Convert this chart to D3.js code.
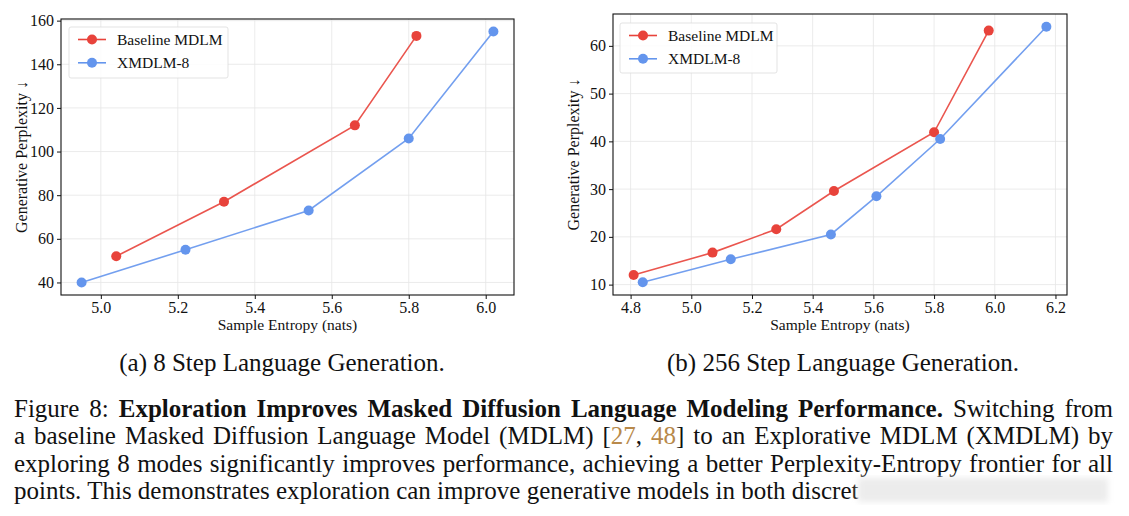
<!DOCTYPE html>
<html>
<head>
<meta charset="utf-8">
<script src="https://cdn.jsdelivr.net/npm/d3@7"></script>
<style>
  body { margin: 0; background: #fff; }
  svg { display: block; }
  text { font-family: "Liberation Serif", "Times New Roman", serif; }
</style>
</head>
<body>
<svg id="fig" width="1129" height="516"></svg>
<script>
// series names + colours
const seriesNames = ["Baseline MDLM", "XMDLM-8"];
const seriesColors = ["#e8433b", "#6495ed"];

// panel (a): 8 step
const a_baseX = [5.04, 5.32, 5.66, 5.82];
const a_baseY = [52, 77, 112, 153];
const a_xmX = [4.95, 5.22, 5.54, 5.80, 6.02];
const a_xmY = [40, 55, 73, 106, 155];
const a_xTicks = [5.0, 5.2, 5.4, 5.6, 5.8, 6.0];
const a_yTicks = [40, 60, 80, 100, 120, 140, 160];

// panel (b): 256 step
const b_baseX = [4.81, 5.07, 5.28, 5.47, 5.80, 5.98];
const b_baseY = [12, 16.7, 21.6, 29.6, 41.9, 63.2];
const b_xmX = [4.84, 5.13, 5.46, 5.61, 5.82, 6.17];
const b_xmY = [10.5, 15.3, 20.5, 28.5, 40.5, 64];
const b_xTicks = [4.8, 5.0, 5.2, 5.4, 5.6, 5.8, 6.0, 6.2];
const b_yTicks = [10, 20, 30, 40, 50, 60];

const subCaptions = ["(a) 8 Step Language Generation.", "(b) 256 Step Language Generation."];

const svg = d3.select("#fig");

// matplotlib style 5% margins
function padded(vals) {
  const [lo, hi] = d3.extent(vals);
  const m = (hi - lo) * 0.05;
  return [lo - m, hi + m];
}

function drawPanel(box, xs, ys, xTicks, yTicks, legendBox) {
  const allX = xs[0].concat(xs[1]);
  const allY = ys[0].concat(ys[1]);
  const x = d3.scaleLinear().domain(padded(allX)).range([box.left, box.right]);
  const y = d3.scaleLinear().domain(padded(allY)).range([box.bottom, box.top]);

  const g = svg.append("g");

  // grid
  g.append("g").selectAll("line").data(xTicks).join("line")
    .attr("x1", d => x(d)).attr("x2", d => x(d))
    .attr("y1", box.top).attr("y2", box.bottom)
    .attr("stroke", "#e6e6e6").attr("stroke-width", 0.8);
  g.append("g").selectAll("line").data(yTicks).join("line")
    .attr("x1", box.left).attr("x2", box.right)
    .attr("y1", d => y(d)).attr("y2", d => y(d))
    .attr("stroke", "#e6e6e6").attr("stroke-width", 0.8);

  // axes
  const xAxis = g.append("g")
    .attr("transform", `translate(0,${box.bottom})`)
    .call(d3.axisBottom(x).tickValues(xTicks).tickFormat(d3.format(".1f")).tickSize(4).tickSizeOuter(0));
  const yAxis = g.append("g")
    .attr("transform", `translate(${box.left},0)`)
    .call(d3.axisLeft(y).tickValues(yTicks).tickFormat(d3.format("d")).tickSize(4).tickSizeOuter(0));
  [xAxis, yAxis].forEach(ax => {
    ax.select(".domain").remove();
    ax.selectAll("text").attr("font-size", 16).attr("fill", "#111")
      .style("font-family", "'Liberation Serif', serif");
    ax.selectAll("line").attr("stroke", "#111");
  });

  g.append("rect")
    .attr("x", box.left).attr("y", box.top)
    .attr("width", box.right - box.left).attr("height", box.bottom - box.top)
    .attr("fill", "none").attr("stroke", "#111").attr("stroke-width", 1.1);

  // labels
  g.append("text")
    .attr("x", (box.left + box.right) / 2).attr("y", box.bottom + 35)
    .attr("text-anchor", "middle").attr("font-size", 15.5).attr("fill", "#111")
    .text("Sample Entropy (nats)");
  g.append("text")
    .attr("transform", `translate(${box.left - 34},${(box.top + box.bottom) / 2}) rotate(-90)`)
    .attr("text-anchor", "middle").attr("font-size", 16).attr("fill", "#111")
    .text("Generative Perplexity \u2193");

  // series
  const line = d3.line().x(d => x(d[0])).y(d => y(d[1]));
  for (let s = 0; s < 2; s++) {
    const pts = d3.zip(xs[s], ys[s]);
    g.append("path").datum(pts)
      .attr("d", line).attr("fill", "none")
      .attr("stroke", seriesColors[s]).attr("stroke-width", 1.6).attr("stroke-opacity", 0.9);
    g.append("g").selectAll("circle").data(pts).join("circle")
      .attr("cx", d => x(d[0])).attr("cy", d => y(d[1])).attr("r", 5)
      .attr("fill", seriesColors[s]);
  }

  // legend
  const lg = g.append("g");
  lg.append("rect")
    .attr("x", legendBox.x).attr("y", legendBox.y)
    .attr("width", legendBox.w).attr("height", legendBox.h).attr("rx", 2)
    .attr("fill", "#fff").attr("fill-opacity", 0.85)
    .attr("stroke", "#dcdcdc").attr("stroke-width", 0.8);
  seriesNames.forEach((name, i) => {
    const cy = legendBox.y + 12.5 + i * 23.3;
    const lx = legendBox.x + 9;
    lg.append("line").attr("x1", lx).attr("x2", lx + 28).attr("y1", cy).attr("y2", cy)
      .attr("stroke", seriesColors[i]).attr("stroke-width", 1.6);
    lg.append("circle").attr("cx", lx + 14).attr("cy", cy).attr("r", 5).attr("fill", seriesColors[i]);
    lg.append("text").attr("x", lx + 39).attr("y", cy).attr("dy", "0.33em")
      .attr("font-size", 15.5).attr("fill", "#111").text(name);
  });
}

drawPanel({left: 61, right: 514, top: 19, bottom: 295},
  [a_baseX, a_xmX], [a_baseY, a_xmY], a_xTicks, a_yTicks,
  {x: 69, y: 27, w: 159, h: 51});
drawPanel({left: 613, right: 1067, top: 14, bottom: 295},
  [b_baseX, b_xmX], [b_baseY, b_xmY], b_xTicks, b_yTicks,
  {x: 620, y: 23, w: 157, h: 50});

// sub captions
svg.append("g").selectAll("text").data(subCaptions).join("text")
  .attr("x", (d, i) => i === 0 ? 282 : 843).attr("y", 371)
  .attr("text-anchor", "middle").attr("font-size", 25).attr("fill", "#111")
  .text(d => d);

// figure caption, justified line by line
const captionLines = [
  [["Figure 8: ", "n"], ["Exploration Improves Masked Diffusion Language Modeling Performance.", "b"], [" Switching from", "n"]],
  [["a baseline Masked Diffusion Language Model (MDLM) [", "n"], ["27", "c"], [", ", "n"], ["48", "c"], ["] to an Explorative MDLM (XMDLM) by", "n"]],
  [["exploring 8 modes significantly improves performance, achieving a better Perplexity-Entropy frontier for all", "n"]],
  [["points. This demonstrates exploration can improve generative models in both discret", "n"]]
];
const capLeft = 14, capRight = 1113;
captionLines.forEach((parts, i) => {
  const t = svg.append("text")
    .attr("x", capLeft).attr("y", 417 + i * 27.3)
    .attr("font-size", 25).attr("fill", "#111");
  parts.forEach(p => {
    t.append("tspan").text(p[0])
      .attr("font-weight", p[1] === "b" ? "bold" : null)
      .attr("fill", p[1] === "c" ? "#b8894a" : null);
  });
  if (i < captionLines.length - 1) {
    const natural = t.node().getComputedTextLength();
    const spaces = parts.map(p => p[0]).join("").split(" ").length - 1;
    const ws = (capRight - capLeft - natural) / spaces;
    t.attr("word-spacing", ws);
  }
});

// blurred overlay at bottom right
const defs = svg.append("defs");
defs.append("filter").attr("id", "blur").append("feGaussianBlur").attr("stdDeviation", 3);
svg.append("rect").attr("x", 858).attr("y", 478).attr("width", 250).attr("height", 24)
  .attr("fill", "#ececec").attr("filter", "url(#blur)");
</script>
</body>
</html>
